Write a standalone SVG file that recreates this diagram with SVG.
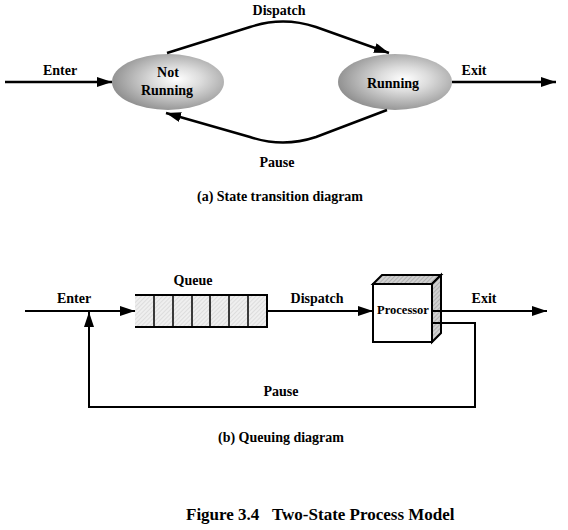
<svg xmlns="http://www.w3.org/2000/svg" width="568" height="530" viewBox="0 0 568 530">
<defs>
<radialGradient id="stateGrad" cx="0.58" cy="0.45" r="0.62">
<stop offset="0" stop-color="#ffffff"/>
<stop offset="0.35" stop-color="#dcdcdc"/>
<stop offset="1" stop-color="#8a8a8a"/>
</radialGradient>
<pattern id="hatch" width="3" height="3" patternUnits="userSpaceOnUse" patternTransform="rotate(45)">
<rect width="3" height="3" fill="#efefef"/>
<line x1="0" y1="0" x2="0" y2="3" stroke="#cccccc" stroke-width="1"/>
</pattern>
<pattern id="hatchDark" width="3" height="3" patternUnits="userSpaceOnUse" patternTransform="rotate(45)">
<rect width="3" height="3" fill="#d0d0d0"/>
<line x1="0" y1="0" x2="0" y2="3" stroke="#909090" stroke-width="1"/>
</pattern>
<marker id="arrow" markerUnits="userSpaceOnUse" markerWidth="15" markerHeight="10" refX="15" refY="5" orient="auto">
<path d="M0,0 L15,5 L0,10 z" fill="#000"/>
</marker>
</defs>
<style>
text { font-family: "Liberation Serif", "Times New Roman", serif; font-weight: bold; fill: #000; }
.lbl { font-size: 14px; }
.fig { font-size: 17px; }
.conn { fill: none; stroke: #000; stroke-width: 2.5; }
.connb { fill: none; stroke: #000; stroke-width: 2; }
.box { stroke: #000; stroke-width: 2; }
</style>
<rect width="568" height="530" fill="#fff"/>

<!-- (a) State transition diagram -->
<g id="not-running">
<ellipse cx="168" cy="82" rx="56" ry="28" fill="url(#stateGrad)"/>
<text class="lbl" x="168" y="77" text-anchor="middle">Not</text>
<text class="lbl" x="167" y="95" text-anchor="middle">Running</text>
</g>
<g id="running">
<ellipse cx="395" cy="82" rx="57" ry="28" fill="url(#stateGrad)"/>
<text class="lbl" x="393" y="88" text-anchor="middle">Running</text>
</g>

<!-- (b) Queuing diagram -->
<g id="queue">
<rect x="135" y="295" width="132" height="32" fill="url(#hatch)"/>
<path class="box" fill="none" d="M135,295 H267 V327 H135"/>
<path stroke="#000" stroke-width="1.5" d="M154,295 V327 M173,295 V327 M192,295 V327 M210,295 V327 M229,295 V327 M248,295 V327"/>
<text class="lbl" x="193" y="285" text-anchor="middle">Queue</text>
</g>
<g id="processor">
<polygon class="box" points="373,284 382,275 441,275 432,284" fill="url(#hatchDark)"/>
<polygon class="box" points="432,284 441,275 441,333 432,342" fill="url(#hatchDark)"/>
<rect class="box" x="373" y="284" width="59" height="58" fill="#fff"/>
<text x="403" y="314" text-anchor="middle" font-size="12.5">Processor</text>
</g>

<g id="connectors">
<line class="conn" x1="5" y1="82" x2="112" y2="82" marker-end="url(#arrow)"/>
<line class="conn" x1="452" y1="82" x2="556" y2="82" marker-end="url(#arrow)"/>
<path class="conn" d="M167,53 L250,27 Q283,16 316,27 L389,53" marker-end="url(#arrow)"/>
<path class="conn" d="M387,110 L316,137 Q283,148 250,137 L166,113" marker-end="url(#arrow)"/>

<line class="connb" x1="25" y1="311" x2="135" y2="311" marker-end="url(#arrow)"/>
<line class="connb" x1="267" y1="311" x2="373" y2="311" marker-end="url(#arrow)"/>
<line class="connb" x1="432" y1="311" x2="547" y2="311" marker-end="url(#arrow)"/>
<path class="connb" d="M432,323 H475 V407 H89 V312" marker-end="url(#arrow)"/>
</g>

<g id="labels">
<text class="lbl" x="279" y="15" text-anchor="middle">Dispatch</text>
<text class="lbl" x="60" y="75" text-anchor="middle">Enter</text>
<text class="lbl" x="474" y="75" text-anchor="middle">Exit</text>
<text class="lbl" x="277" y="167" text-anchor="middle">Pause</text>
<text class="lbl" x="280" y="201" text-anchor="middle">(a) State transition diagram</text>

<text class="lbl" x="74" y="303" text-anchor="middle">Enter</text>
<text class="lbl" x="317" y="303" text-anchor="middle">Dispatch</text>
<text class="lbl" x="484" y="303" text-anchor="middle">Exit</text>
<text class="lbl" x="281" y="396" text-anchor="middle">Pause</text>
<text class="lbl" x="281" y="442" text-anchor="middle">(b) Queuing diagram</text>

<text class="fig" x="186" y="520">Figure 3.4</text>
<text class="fig" x="272" y="520">Two-State Process Model</text>
</g>
</svg>
